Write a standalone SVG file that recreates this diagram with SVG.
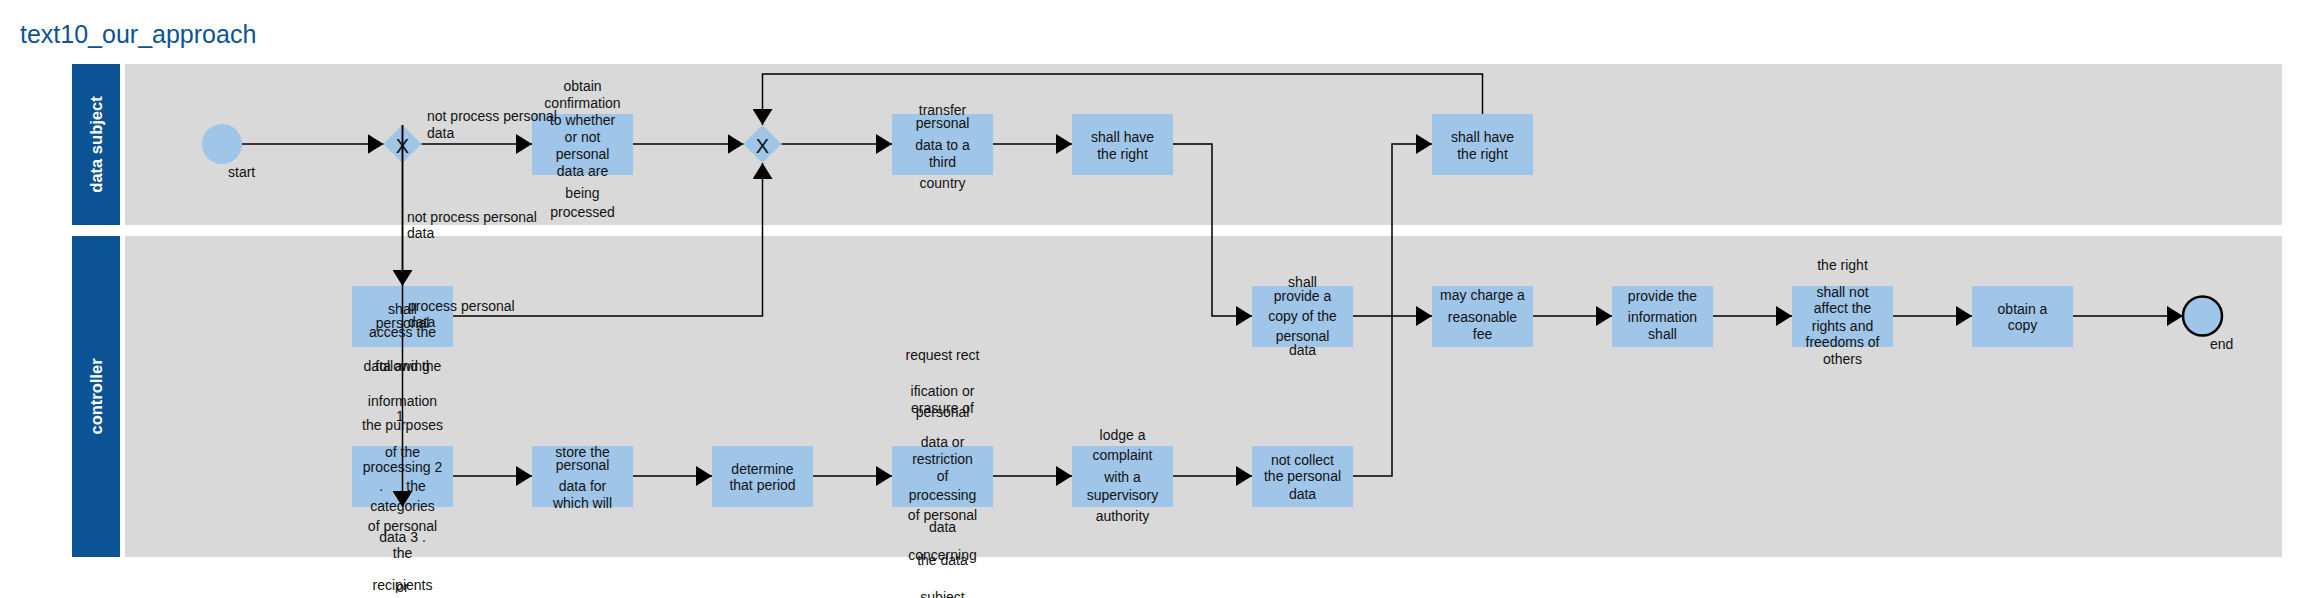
<svg xmlns="http://www.w3.org/2000/svg" width="2299" height="598" viewBox="0 0 2299 598">
<style>
.lane{fill:#d9d9d9}
.hdr{fill:#0b5394}
.hdrt{font-family:"Liberation Sans",Arial,sans-serif;font-size:16.5px;font-weight:bold;fill:#fff;text-anchor:middle}
.task{fill:#9fc5e8}
.gw{fill:#9fc5e8}
.t{font-family:"Liberation Sans",Arial,sans-serif;font-size:14px;fill:#111;text-anchor:middle}
.lbl{font-family:"Liberation Sans",Arial,sans-serif;font-size:14px;fill:#111;text-anchor:start}
.x{font-family:"Liberation Sans",Arial,sans-serif;font-size:20px;fill:#111;text-anchor:middle}
.conn{fill:none;stroke:#000;stroke-width:1.5;marker-end:url(#arr)}
.title{font-family:"Liberation Sans",Arial,sans-serif;font-size:25px;fill:#0b5394}
</style>
<defs>
<marker id="arr" markerUnits="userSpaceOnUse" markerWidth="16" markerHeight="20" refX="16" refY="10" orient="auto">
<path d="M0,0 L16,10 L0,20 z" fill="#000"/>
</marker>
</defs>
<rect width="2299" height="598" fill="#fff"/>
<text class="title" x="20" y="43">text10_our_approach</text>

<g id="lane_data_subject">
<rect class="hdr" x="72" y="64" width="48" height="161"/>
<rect class="lane" x="125" y="64" width="2157" height="161"/>
<text class="hdrt" transform="translate(102,144.5) rotate(-90)">data subject</text>
</g>
<g id="lane_controller">
<rect class="hdr" x="72" y="236" width="48" height="321"/>
<rect class="lane" x="125" y="236" width="2157" height="321"/>
<text class="hdrt" transform="translate(102,396.5) rotate(-90)">controller</text>
</g>

<g id="start">
<circle cx="222" cy="144" r="20" fill="#9fc5e8"/>
<text class="lbl" x="228" y="177">start</text>
</g>
<g id="gateway1">
<path class="gw" d="M402.5,125 L421.5,144 L402.5,163 L383.5,144 z"/>
<text class="x" x="402.5" y="153">X</text>
</g>
<g id="task_obtain_confirmation">
<rect class="task" x="532" y="114" width="101" height="61"/>
<text class="t"><tspan x="582.5" y="91">obtain</tspan><tspan x="582.5" y="108">confirmation</tspan><tspan x="582.5" y="125">to whether</tspan><tspan x="582.5" y="142">or not</tspan><tspan x="582.5" y="159">personal</tspan><tspan x="582.5" y="176">data are</tspan><tspan x="582.5" y="198">being</tspan><tspan x="582.5" y="217">processed</tspan></text>
</g>
<g id="gateway2">
<path class="gw" d="M762.5,125 L781.5,144 L762.5,163 L743.5,144 z"/>
<text class="x" x="762.5" y="153">X</text>
</g>
<g id="task_transfer">
<rect class="task" x="892" y="114" width="101" height="61"/>
<text class="t"><tspan x="942.5" y="115">transfer</tspan><tspan x="942.5" y="128">personal</tspan><tspan x="942.5" y="150">data to a</tspan><tspan x="942.5" y="167">third</tspan><tspan x="942.5" y="188">country</tspan></text>
</g>
<g id="task_shall_have_right_1">
<rect class="task" x="1072" y="114" width="101" height="61"/>
<text class="t"><tspan x="1122.5" y="142">shall have</tspan><tspan x="1122.5" y="159">the right</tspan></text>
</g>
<g id="task_shall_have_right_2">
<rect class="task" x="1432" y="114" width="101" height="61"/>
<text class="t"><tspan x="1482.5" y="142">shall have</tspan><tspan x="1482.5" y="159">the right</tspan></text>
</g>

<g id="task_shall_access">
<rect class="task" x="352" y="286" width="101" height="61"/>
<text class="t"><tspan x="402.5" y="314">shall</tspan><tspan x="402.5" y="328">personal</tspan><tspan x="402.5" y="337">access the</tspan><tspan x="402.5" y="371">data and the</tspan><tspan x="402.5" y="371">following</tspan><tspan x="402.5" y="406">information</tspan></text>
</g>
<g id="task_purposes">
<rect class="task" x="352" y="446" width="101" height="61"/>
<text class="t" xml:space="preserve"><tspan x="400" y="421">1</tspan><tspan x="402.5" y="430">the purposes</tspan><tspan x="402.5" y="457">of the</tspan><tspan x="402.5" y="472">processing 2</tspan><tspan x="402.5" y="491">.      the</tspan><tspan x="402.5" y="511">categories</tspan><tspan x="402.5" y="531">of personal</tspan><tspan x="402.5" y="542">data 3 .</tspan><tspan x="402.5" y="558">the</tspan><tspan x="402.5" y="590">recipients</tspan><tspan x="402.5" y="592">or</tspan></text>
</g>
<g id="task_store">
<rect class="task" x="532" y="446" width="101" height="61"/>
<text class="t"><tspan x="582.5" y="457">store the</tspan><tspan x="582.5" y="470">personal</tspan><tspan x="582.5" y="491">data for</tspan><tspan x="582.5" y="508">which will</tspan></text>
</g>
<g id="task_determine">
<rect class="task" x="712" y="446" width="101" height="61"/>
<text class="t"><tspan x="762.5" y="474">determine</tspan><tspan x="762.5" y="490">that period</tspan></text>
</g>
<g id="task_request">
<rect class="task" x="892" y="446" width="101" height="61"/>
<text class="t"><tspan x="942.5" y="360">request rect</tspan><tspan x="942.5" y="396">ification or</tspan><tspan x="942.5" y="413">erasure of</tspan><tspan x="942.5" y="417">personal</tspan><tspan x="942.5" y="447">data or</tspan><tspan x="942.5" y="464">restriction</tspan><tspan x="942.5" y="481">of</tspan><tspan x="942.5" y="500">processing</tspan><tspan x="942.5" y="520">of personal</tspan><tspan x="942.5" y="532">data</tspan><tspan x="942.5" y="560">concerning</tspan><tspan x="942.5" y="565">the data</tspan><tspan x="942.5" y="602">subject</tspan></text>
</g>
<g id="task_lodge">
<rect class="task" x="1072" y="446" width="101" height="61"/>
<text class="t"><tspan x="1122.5" y="440">lodge a</tspan><tspan x="1122.5" y="460">complaint</tspan><tspan x="1122.5" y="482">with a</tspan><tspan x="1122.5" y="500">supervisory</tspan><tspan x="1122.5" y="521">authority</tspan></text>
</g>
<g id="task_not_collect">
<rect class="task" x="1252" y="446" width="101" height="61"/>
<text class="t"><tspan x="1302.5" y="465">not collect</tspan><tspan x="1302.5" y="481">the personal</tspan><tspan x="1302.5" y="499">data</tspan></text>
</g>

<g id="task_provide_copy">
<rect class="task" x="1252" y="286" width="101" height="61"/>
<text class="t"><tspan x="1302.5" y="287">shall</tspan><tspan x="1302.5" y="301">provide a</tspan><tspan x="1302.5" y="321">copy of the</tspan><tspan x="1302.5" y="341">personal</tspan><tspan x="1302.5" y="355">data</tspan></text>
</g>
<g id="task_may_charge">
<rect class="task" x="1432" y="286" width="101" height="61"/>
<text class="t"><tspan x="1482.5" y="300">may charge a</tspan><tspan x="1482.5" y="322">reasonable</tspan><tspan x="1482.5" y="339">fee</tspan></text>
</g>
<g id="task_provide_information">
<rect class="task" x="1612" y="286" width="101" height="61"/>
<text class="t"><tspan x="1662.5" y="301">provide the</tspan><tspan x="1662.5" y="322">information</tspan><tspan x="1662.5" y="339">shall</tspan></text>
</g>
<g id="task_not_affect">
<rect class="task" x="1792" y="286" width="101" height="61"/>
<text class="t"><tspan x="1842.5" y="270">the right</tspan><tspan x="1842.5" y="297">shall not</tspan><tspan x="1842.5" y="313">affect the</tspan><tspan x="1842.5" y="331">rights and</tspan><tspan x="1842.5" y="347">freedoms of</tspan><tspan x="1842.5" y="364">others</tspan></text>
</g>
<g id="task_obtain_copy">
<rect class="task" x="1972" y="286" width="101" height="61"/>
<text class="t"><tspan x="2022.5" y="314">obtain a</tspan><tspan x="2022.5" y="330">copy</tspan></text>
</g>
<g id="end">
<circle cx="2202.5" cy="316" r="19.5" fill="#9fc5e8" stroke="#000" stroke-width="2.5"/>
<text class="lbl" x="2210" y="349">end</text>
</g>

<g id="connectors">
<path class="conn" d="M242,144 L383.5,144"/>
<path class="conn" d="M421.5,144 L532,144"/>
<text class="lbl"><tspan x="427" y="121">not process personal</tspan><tspan x="427" y="138">data</tspan></text>
<path class="conn" d="M633,144 L743.5,144"/>
<path class="conn" d="M781.5,144 L892,144"/>
<path class="conn" d="M993,144 L1072,144"/>
<path class="conn" d="M1173,144 L1212,144 L1212,316 L1252,316"/>
<path class="conn" d="M1482.5,114 L1482.5,74 L762.5,74 L762.5,125"/>
<path class="conn" d="M402.5,125 L402.5,286"/>
<text class="lbl"><tspan x="407" y="222">not process personal</tspan><tspan x="407" y="238">data</tspan></text>
<path class="conn" d="M402.5,125 L402.5,507"/>
<path class="conn" d="M453,316 L762.5,316 L762.5,163"/>
<text class="lbl"><tspan x="408" y="311">process personal</tspan><tspan x="408" y="327">data</tspan></text>
<path class="conn" d="M453,476 L532,476"/>
<path class="conn" d="M633,476 L712,476"/>
<path class="conn" d="M813,476 L892,476"/>
<path class="conn" d="M993,476 L1072,476"/>
<path class="conn" d="M1173,476 L1252,476"/>
<path class="conn" d="M1353,476 L1392,476 L1392,144 L1432,144"/>
<path class="conn" d="M1353,316 L1432,316"/>
<path class="conn" d="M1533,316 L1612,316"/>
<path class="conn" d="M1713,316 L1792,316"/>
<path class="conn" d="M1893,316 L1972,316"/>
<path class="conn" d="M2073,316 L2183,316"/>
</g>
</svg>
